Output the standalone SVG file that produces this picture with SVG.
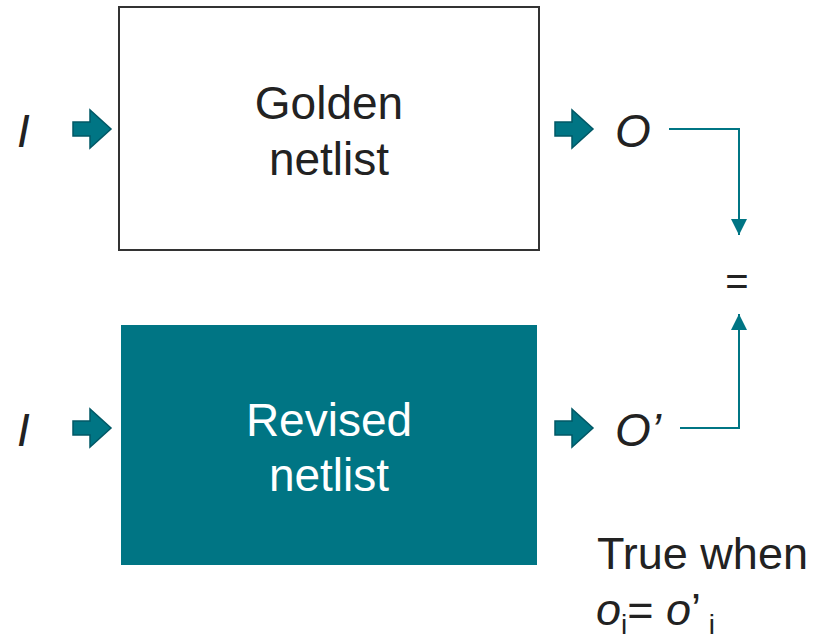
<svg xmlns="http://www.w3.org/2000/svg" width="823" height="640" viewBox="0 0 823 640">
<style>
.t{font-family:"Liberation Sans",Arial,sans-serif;fill:#222;}
.lbl{font-size:46px;text-anchor:middle;}
.it{font-style:italic;font-size:46px;}
.blk{fill:#007584;stroke:#005866;stroke-width:1.5;}
.con{fill:none;stroke:#007584;stroke-width:2;}
</style>
<defs>
<marker id="ah" viewBox="0 0 16 16" refX="16" refY="8" markerWidth="16" markerHeight="16" markerUnits="userSpaceOnUse" orient="auto">
<path d="M0,0 L16,8 L0,16 Z" fill="#007584"/>
</marker>
<path id="barrow" d="M0,12 L17,12 L17,0 L38,19 L17,38 L17,26 L0,26 Z"/>
</defs>
<g id="golden">
<rect x="119" y="7" width="420" height="243" fill="#fff" stroke="#333" stroke-width="2"/>
<text class="t lbl" x="329" y="119">Golden</text>
<text class="t lbl" x="329" y="175">netlist</text>
</g>
<g id="revised">
<rect x="121" y="325" width="416" height="240" fill="#007584"/>
<text class="t lbl" x="329" y="436" style="fill:#fff">Revised</text>
<text class="t lbl" x="329" y="491" style="fill:#fff">netlist</text>
</g>
<g id="in1"><text class="t it" x="17" y="147">I</text></g>
<g id="in2"><text class="t it" x="17" y="446">I</text></g>
<g id="out1"><text class="t it" x="615" y="147">O</text></g>
<g id="out2"><text class="t it" x="615" y="446">O’</text></g>
<g id="eq"><text class="t" x="737" y="295" style="font-size:40px;text-anchor:middle">=</text></g>
<g id="note">
<text class="t" x="597" y="569" style="font-size:45px">True when</text>
<text class="t" x="596" y="625" style="font-size:45px"><tspan font-style="italic">o</tspan><tspan font-size="28" dy="9">i</tspan><tspan dy="-9">= </tspan><tspan font-style="italic">o</tspan><tspan>’</tspan><tspan font-size="28" dy="9"> i</tspan></text>
</g>
<g id="connectors">
<use href="#barrow" class="blk" x="73" y="110"/>
<use href="#barrow" class="blk" x="73" y="409"/>
<use href="#barrow" class="blk" x="555" y="110"/>
<use href="#barrow" class="blk" x="555" y="409"/>
<path class="con" d="M669,129 H739 V235" marker-end="url(#ah)"/>
<path class="con" d="M680,428 H739 V314" marker-end="url(#ah)"/>
</g>
</svg>
